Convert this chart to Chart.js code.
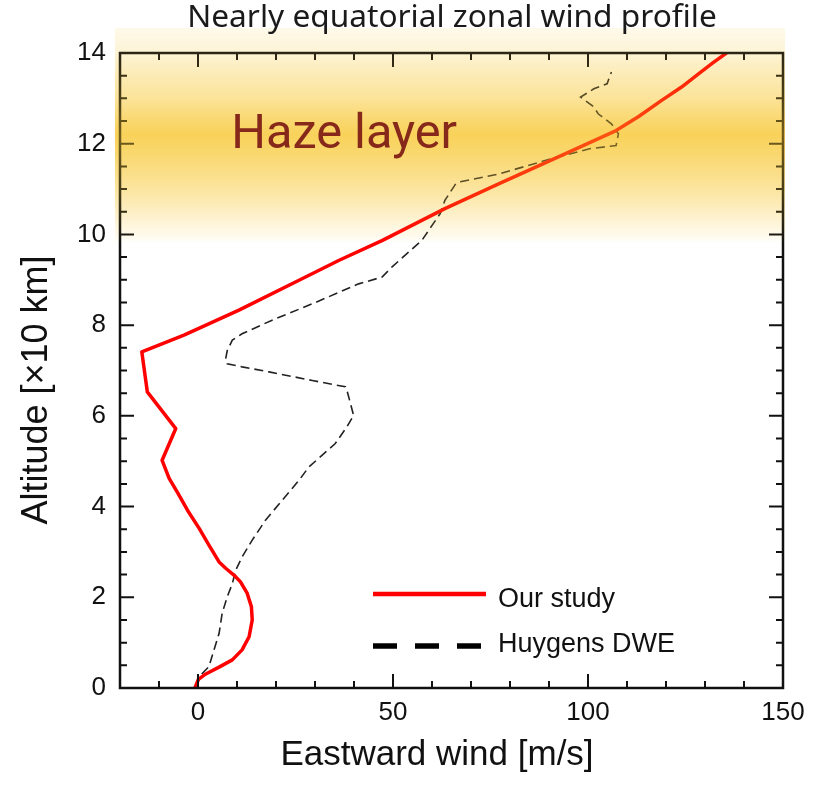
<!DOCTYPE html>
<html><head><meta charset="utf-8">
<script src="https://cdn.jsdelivr.net/npm/chart.js@4.4.1/dist/chart.umd.min.js"></script>
<style>html,body{margin:0;padding:0;background:#fff;} #wrap{width:831px;height:794px;position:relative;}</style>
</head><body><div id="wrap"><canvas id="c" width="831" height="794"></canvas></div>
<script>
const chartTitle = 'Nearly equatorial zonal wind profile';
const xAxisTitle = 'Eastward wind [m/s]';
const yAxisTitle = 'Altitude [×10 km]';
const hazeLabel = 'Haze layer';
const seriesNames = ['Our study', 'Huygens DWE'];
const xTickValues = [0, 50, 100, 150];
const yTickValues = [0, 2, 4, 6, 8, 10, 12, 14];

// Our study (eastward wind m/s vs altitude x10 km)
const ourWind = [-0.8, 0.1, 2.0, 5.4, 8.8, 11.3, 13.1, 13.9, 13.7, 12.6, 10.9, 9.2, 7.1, 5.4, 2.8, 0.3, -2.7, -5.2, -7.4, -9.2, -5.7, -13.0, -14.4, -3.6, 10.5, 25.9, 36.2, 47.3, 63.3, 77.5, 92.4, 107.2, 113.0, 118.8, 124.0, 128.5, 132.0, 135.5];
const ourAlt  = [0.0, 0.19, 0.31, 0.46, 0.62, 0.84, 1.13, 1.5, 1.79, 2.09, 2.34, 2.49, 2.64, 2.78, 3.15, 3.52, 3.92, 4.3, 4.62, 5.02, 5.72, 6.53, 7.41, 7.78, 8.33, 8.99, 9.43, 9.87, 10.57, 11.13, 11.71, 12.29, 12.6, 12.95, 13.25, 13.55, 13.78, 14.0];

// Huygens DWE
const dweWind = [-0.6, 1.1, 2.8, 4.1, 5.4, 6.2, 7.5, 8.8, 9.7, 11.3, 13.9, 17.3, 21.6, 25.9, 28.4, 35.2, 38.2, 39.9, 38.2, 37.8, 29.3, 18.2, 11.3, 7.5, 7.1, 7.5, 8.8, 11.3, 19.0, 29.3, 41.2, 47.2, 49.7, 57.4, 62.1, 63.3, 66.1, 67.3, 77.5, 89.0, 100.4, 107.2, 107.8, 106.0, 102.6, 101.5, 98.1, 101.5, 104.9, 105.5, 106.0];
const dweAlt  = [0.03, 0.32, 0.47, 0.84, 1.2, 1.65, 2.01, 2.3, 2.6, 2.89, 3.26, 3.7, 4.14, 4.58, 4.87, 5.39, 5.76, 6.01, 6.56, 6.64, 6.78, 6.97, 7.08, 7.15, 7.26, 7.44, 7.67, 7.81, 8.11, 8.47, 8.91, 9.06, 9.28, 9.87, 10.46, 10.75, 11.12, 11.16, 11.34, 11.63, 11.89, 11.96, 12.22, 12.44, 12.66, 12.81, 13.03, 13.21, 13.32, 13.47, 13.58];

const FONT = "'Liberation Sans', Arial, Helvetica, sans-serif";

function hazeGradient(ctx, yS, mode) {
  const stops = [[14.55,0.1],[14.0,0.2],[13.0,0.48],[12.2,0.78],[11.0,0.45],[10.3,0.2],[9.95,0.08],[9.8,0]];
  const yTop = yS.getPixelForValue(14.55), yBot = yS.getPixelForValue(9.8);
  const g = ctx.createLinearGradient(0, yTop, 0, yBot);
  stops.forEach(([v, e]) => {
    const a2 = 0.42 * e / 0.78;
    const a = mode === 'over' ? a2 : 1 - (1 - e) / (1 - a2);
    g.addColorStop(Math.min(1, Math.max(0, (yS.getPixelForValue(v) - yTop) / (yBot - yTop))), `rgba(247,197,43,${a.toFixed(3)})`);
  });
  return {g, yTop, yBot};
}
function fillHaze(chart, mode) {
  const {ctx, chartArea} = chart;
  const yS = chart.scales.y;
  const {g, yTop, yBot} = hazeGradient(ctx, yS, mode);
  ctx.save();
  ctx.fillStyle = g;
  ctx.fillRect(chartArea.left - 5, yTop, chartArea.right - chartArea.left + 7, yBot - yTop);
  ctx.restore();
}
function fitFont(ctx, text, family, weight, target) {
  ctx.font = `${weight} 100px ${family}`;
  return 100 * target / ctx.measureText(text).width;
}

const decor = {
  id: 'decor',
  beforeDatasetsDraw(chart) { fillHaze(chart, 'under'); },
  afterDraw(chart) {
    const {ctx, chartArea: a} = chart;
    const xS = chart.scales.x, yS = chart.scales.y;
    ctx.save();
    // ticks (inside, all four sides)
    ctx.strokeStyle = '#111';
    ctx.lineWidth = 2;
    ctx.beginPath();
    for (let v = -20; v <= 150; v += 10) {
      const px = xS.getPixelForValue(v);
      const L = (v % 50 === 0) ? 14 : 7;
      ctx.moveTo(px, a.bottom); ctx.lineTo(px, a.bottom - L);
      ctx.moveTo(px, a.top); ctx.lineTo(px, a.top + L);
    }
    for (let v = 0; v <= 14; v += 0.5) {
      const py = yS.getPixelForValue(v);
      const L = (v % 2 === 0) ? 14 : 7;
      ctx.moveTo(a.left, py); ctx.lineTo(a.left + L, py);
      ctx.moveTo(a.right, py); ctx.lineTo(a.right - L, py);
    }
    ctx.stroke();
    // frame
    ctx.lineWidth = 2.5;
    ctx.strokeRect(a.left, a.top, a.right - a.left, a.bottom - a.top);
    ctx.restore();

    // haze overlay
    fillHaze(chart, 'over');

    ctx.save();
    // haze label
    let fs = fitFont(ctx, hazeLabel, 'Roboto, "Noto Sans", sans-serif', 'normal', 226);
    ctx.font = `normal ${fs}px Roboto, "Noto Sans", sans-serif`;
    ctx.fillStyle = '#86291b';
    ctx.textAlign = 'left'; ctx.textBaseline = 'alphabetic';
    ctx.fillText(hazeLabel, xS.getPixelForValue(8.5), 148);

    // title
    fs = fitFont(ctx, chartTitle, '"Noto Sans", sans-serif', 'normal', 530);
    ctx.font = `normal ${fs}px "Noto Sans", sans-serif`;
    ctx.fillStyle = '#1a1a1a';
    ctx.textAlign = 'center';
    ctx.fillText(chartTitle, 452, 27);

    // axis titles
    ctx.font = `35px ${FONT}`;
    ctx.fillStyle = '#111';
    ctx.fillText(xAxisTitle, 437, 765);
    ctx.save();
    ctx.translate(47, 390);
    ctx.rotate(-Math.PI / 2);
    ctx.font = `36px ${FONT}`;
    ctx.fillText(yAxisTitle, 0, 0);
    ctx.restore();

    // legend
    ctx.lineCap = 'butt';
    ctx.strokeStyle = '#ff0000';
    ctx.lineWidth = 4.5;
    ctx.beginPath(); ctx.moveTo(373, 594); ctx.lineTo(486, 594); ctx.stroke();
    ctx.strokeStyle = '#000';
    ctx.lineWidth = 5.5;
    ctx.setLineDash([24, 18]);
    ctx.beginPath(); ctx.moveTo(373, 646); ctx.lineTo(482, 646); ctx.stroke();
    ctx.setLineDash([]);
    ctx.font = `27px ${FONT}`;
    ctx.fillStyle = '#111';
    ctx.textAlign = 'left';
    ctx.fillText(seriesNames[0], 498, 607);
    ctx.fillText(seriesNames[1], 498, 652);
    ctx.restore();
  }
};

new Chart(document.getElementById('c'), {
  type: 'scatter',
  data: {
    datasets: [
      { label: seriesNames[0], data: ourWind.map((w, i) => ({x: w, y: ourAlt[i]})),
        showLine: true, borderColor: '#ff0000', borderWidth: 3.5, pointRadius: 0, tension: 0,
        borderJoinStyle: 'round', borderCapStyle: 'round', fill: false },
      { label: seriesNames[1], data: dweWind.map((w, i) => ({x: w, y: dweAlt[i]})),
        showLine: true, borderColor: '#222', borderWidth: 1.6, borderDash: [9, 5], pointRadius: 0, tension: 0, fill: false }
    ]
  },
  options: {
    responsive: false,
    animation: false,
    layout: { padding: { left: 0, right: 48, top: 53, bottom: 0 } },
    plugins: { legend: { display: false }, tooltip: { enabled: false }, title: { display: false } },
    scales: {
      x: {
        type: 'linear', min: -20, max: 150,
        afterBuildTicks: s => { s.ticks = xTickValues.map(v => ({value: v})); },
        afterFit: s => { s.height = 106; },
        grid: { display: false, drawTicks: false },
        border: { display: false },
        ticks: { font: { family: FONT, size: 26 }, color: '#111', padding: 9, maxRotation: 0, autoSkip: false }
      },
      y: {
        type: 'linear', min: 0, max: 14,
        afterBuildTicks: s => { s.ticks = yTickValues.map(v => ({value: v})); },
        afterFit: s => { s.width = 120; },
        grid: { display: false, drawTicks: false },
        border: { display: false },
        ticks: { font: { family: FONT, size: 26 }, color: '#111', padding: 14, autoSkip: false }
      }
    }
  },
  plugins: [decor]
});
</script>
</body></html>
